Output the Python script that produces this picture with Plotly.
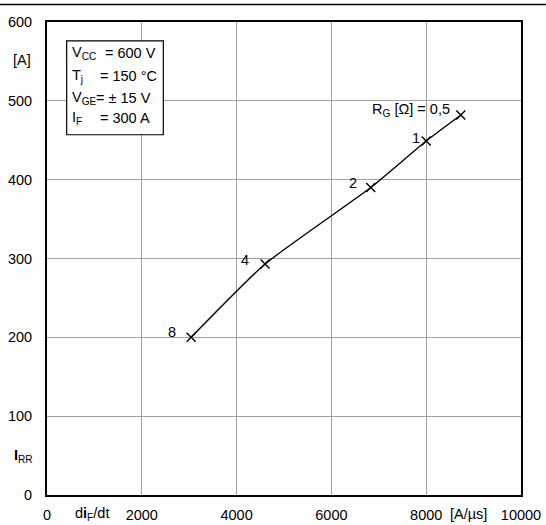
import plotly.graph_objects as go

# ---- data ----
didt = [3040, 4600, 6830, 8000, 8730]          # diF/dt [A/us]
irr = [200, 293, 390, 449, 482]                # IRR [A]
rg_labels = ["8", "4", "2", "1", "R<sub>G</sub> [Ω] = 0,5"]
x_ticks = [0, 2000, 4000, 6000, 8000, 10000]
y_ticks = [0, 100, 200, 300, 400, 500, 600]
cond_names = ["V<sub>CC</sub>", "T<sub>j</sub>", "V<sub>GE</sub>", "I<sub>F</sub>"]
cond_values = ["= 600 V", "= 150 °C", "= ± 15 V", "= 300 A"]

FONT = "Liberation Sans"
FS = 14.5

fig = go.Figure()
fig.add_trace(go.Scatter(
    x=didt, y=irr, mode="lines+markers",
    line=dict(color="black", width=1.4, shape="spline", smoothing=0.5),
    marker=dict(symbol="x-thin", size=9, color="black",
                line=dict(color="black", width=1.4)),
    showlegend=False, hoverinfo="skip"))

# curve labels (pixel offsets from each point)
label_shift = [(-13, 5), (-14, 4), (-12, 5), (-4, 3), (-9, 5)]
for xv, yv, t, (dx, dy) in zip(didt, irr, rg_labels, label_shift):
    fig.add_annotation(x=xv, y=yv, text=t, showarrow=False, xanchor="right",
                       yanchor="middle", xshift=dx, yshift=dy,
                       font=dict(family=FONT, size=FS, color="black"))

# condition box
fig.add_shape(type="rect", xref="x", yref="y", x0=415, x1=2454, y0=457, y1=576,
              line=dict(color="black", width=1.2), fillcolor="white", layer="above")
name_y = [561, 531, 503, 478]
val_x = [1181, 1076, 992, 1076]
for n, v, yy, vx in zip(cond_names, cond_values, name_y, val_x):
    fig.add_annotation(x=485, y=yy, text=n, showarrow=False, xanchor="left",
                       yanchor="middle", font=dict(family=FONT, size=FS, color="black"))
    fig.add_annotation(x=vx, y=yy, text=v, showarrow=False, xanchor="left",
                       yanchor="middle", font=dict(family=FONT, size=FS, color="black"))

# axis unit / name labels
fig.add_annotation(xref="paper", yref="y", x=-0.053, y=552, text="[A]", showarrow=False,
                   xanchor="center", yanchor="middle",
                   font=dict(family=FONT, size=FS, color="black"))
fig.add_annotation(xref="paper", yref="y", x=-0.049, y=49, text="<b>I</b><sub>RR</sub>",
                   showarrow=False, xanchor="center", yanchor="middle",
                   font=dict(family=FONT, size=FS, color="black"))
fig.add_annotation(xref="x", yref="paper", x=950, y=-0.04, text="d<b>i</b><sub>F</sub>/dt",
                   showarrow=False, xanchor="center", yanchor="middle",
                   font=dict(family=FONT, size=FS, color="black"))
fig.add_annotation(xref="x", yref="paper", x=8900, y=-0.04, text="[A/µs]",
                   showarrow=False, xanchor="center", yanchor="middle",
                   font=dict(family=FONT, size=FS, color="black"))

# top rule
fig.add_shape(type="line", xref="paper", yref="paper", x0=-0.0992, x1=1.0802,
              y0=1.0370, y1=1.0370, line=dict(color="black", width=1.5))

axis_common = dict(showgrid=True, gridcolor="#a0a0a0", gridwidth=1,
                   showline=True, linecolor="black", linewidth=1.8, mirror=True,
                   zeroline=False, ticks="", fixedrange=True, automargin=False,
                   tickfont=dict(family=FONT, size=FS, color="black"))

fig.update_layout(
    template="none",
    width=546, height=525,
    margin=dict(l=47, r=25, t=22, b=30, pad=0),
    paper_bgcolor="white", plot_bgcolor="white",
    xaxis=dict(range=[0, 10000], tickvals=x_ticks, ticktext=[str(v) for v in x_ticks],
               ticklabelstandoff=6, **axis_common),
    yaxis=dict(range=[0, 600], tickvals=y_ticks, ticktext=[str(v) for v in y_ticks],
               ticklabelstandoff=10, **axis_common),
)

fig.write_html("out.html", config={"displayModeBar": False},
               post_script="document.body.style.margin='0';document.body.style.overflow='hidden';")
